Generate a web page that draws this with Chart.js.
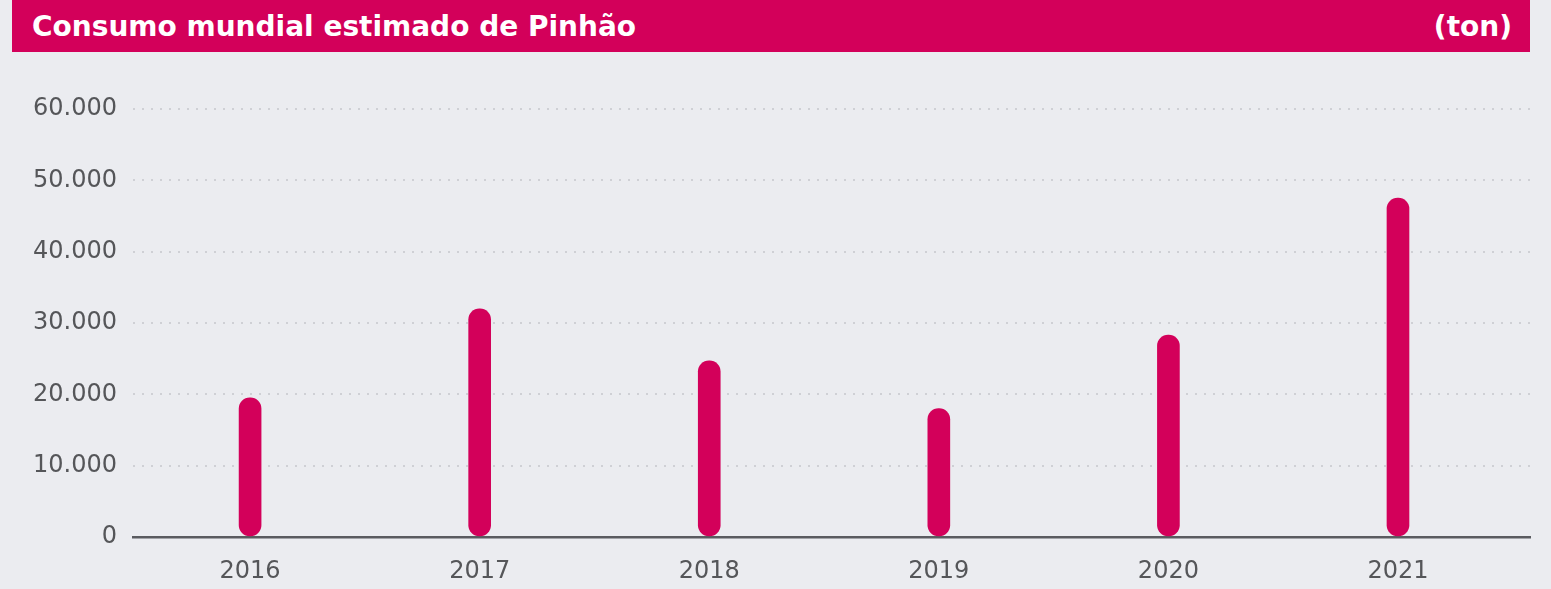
<!DOCTYPE html>
<html>
<head>
<meta charset="utf-8">
<script src="https://cdn.jsdelivr.net/npm/chart.js@4"></script>
<style>
  html, body { margin: 0; padding: 0; background: #ebecf0; width: 1551px; height: 589px; overflow: hidden; }
  #header {
    position: absolute; left: 12px; top: 0; width: 1518px; height: 52px;
    background: #d3005a; color: #fff; font-family: "DejaVu Sans", sans-serif;
    font-weight: 700; font-size: 28px; line-height: 52px;
  }
  #header .title { position: absolute; left: 20px; top: 1px; }
  #header .unit { position: absolute; right: 18px; top: 1px; }
  #wrap { position: absolute; left: 0; top: 52px; width: 1551px; height: 537px; }
</style>
</head>
<body>
<div id="header"><span class="title">Consumo mundial estimado de Pinhão</span><span class="unit">(ton)</span></div>
<div id="wrap"><canvas id="mychart"></canvas></div>
<script>
const years = ["2016", "2017", "2018", "2019", "2020", "2021"];
const consumo = [19500, 32000, 24700, 18000, 28300, 47500];
const yTicks = [0, 10000, 20000, 30000, 40000, 50000, 60000];

const data = {
  datasets: [
    {
      label: "Consumo",
      data: consumo.map((v, i) => ({ x: i, y: v })),
      backgroundColor: "#d3005a",
      barThickness: 22,
      borderRadius: 11,
      borderSkipped: false,
    },
  ],
};

const tickFont = { family: "DejaVu Sans", size: 24 };

const config = {
  type: "bar",
  data: data,
  options: {
    responsive: true,
    maintainAspectRatio: false,
    animation: false,
    layout: { padding: { top: 57, right: 21, left: 0, bottom: 0 } },
    plugins: { legend: { display: false }, tooltip: { enabled: false } },
    scales: {
      x: {
        type: "linear",
        offset: false,
        min: -0.51,
        max: 5.575,
        afterBuildTicks: (s) => { s.ticks = years.map((y, i) => ({ value: i })); },
        grid: { display: false, drawTicks: false },
        border: { color: "#5a5b60", width: 2.5 },
        ticks: {
          color: "#555659",
          padding: 20,
          font: tickFont,
          callback: (v) => years[v],
        },
        afterFit: (s) => { s.height = 52; },
      },
      y: {
        min: 0,
        max: 60000,
        afterBuildTicks: (s) => { s.ticks = yTicks.map((v) => ({ value: v })); },
        grid: {
          drawTicks: false,
          color: (c) => (c.tick && c.tick.value === 0 ? "rgba(0,0,0,0)" : "#cfd0d5"),
          lineWidth: 2,
        },
        border: { display: false, dash: [2, 7] },
        ticks: {
          color: "#555659",
          padding: 16,
          font: tickFont,
          callback: (v) => v.toLocaleString("de-DE"),
        },
        afterFit: (s) => { s.width = 133; },
      },
    },
  },
};

const mychart = new Chart(document.getElementById("mychart"), config);
</script>
</body>
</html>
